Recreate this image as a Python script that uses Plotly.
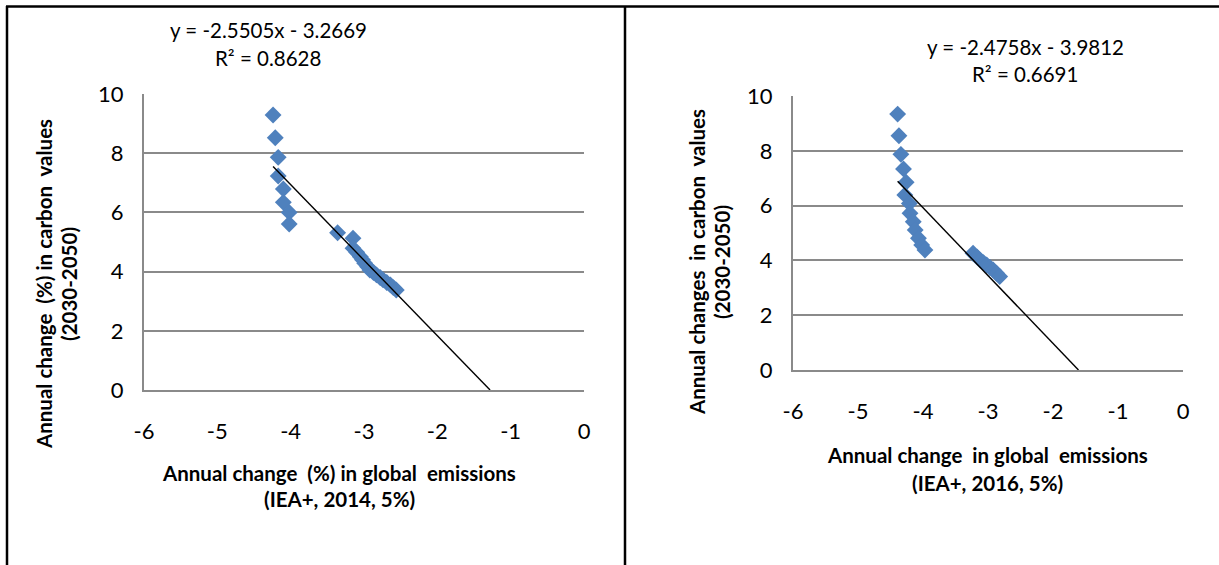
import plotly.graph_objects as go

W, H = 1219, 565

# ---------------- data ----------------
# Left chart: IEA+, 2014, 5%
x_2014 = [-4.24, -4.21, -4.17, -4.17, -4.10, -4.10, -4.02, -4.02, -3.36, -3.15,
          -3.15, -3.10, -3.05, -3.02, -2.99, -2.95, -2.92, -2.87, -2.83, -2.78,
          -2.74, -2.69, -2.64, -2.60, -2.56]
y_2014 = [9.29, 8.52, 7.86, 7.23, 6.79, 6.34, 6.00, 5.61, 5.31, 5.13,
          4.79, 4.65, 4.50, 4.40, 4.28, 4.16, 4.05, 3.97, 3.89, 3.80,
          3.72, 3.63, 3.55, 3.46, 3.38]
slope_2014, icept_2014, r2_2014 = -2.5505, -3.2669, 0.8628

# Right chart: IEA+, 2016, 5%
x_2016 = [-4.39, -4.37, -4.34, -4.30, -4.26, -4.28, -4.21, -4.20, -4.15, -4.12,
          -4.07, -4.02, -3.97, -3.23, -3.17, -3.12, -3.07, -3.02, -2.97, -2.92,
          -2.87, -2.82]
y_2016 = [9.34, 8.55, 7.87, 7.34, 6.85, 6.39, 6.08, 5.72, 5.41, 5.11,
          4.81, 4.56, 4.38, 4.26, 4.13, 4.01, 3.92, 3.83, 3.74, 3.65,
          3.53, 3.41]
slope_2016, icept_2016, r2_2016 = -2.4758, -3.9812, 0.6691

x_ticks = [-6, -5, -4, -3, -2, -1, 0]
x_tick_labels = ["-6", "-5", "-4", "-3", "-2", "-1", "0"]
y_ticks = [0, 2, 4, 6, 8, 10]
y_tick_labels = ["0", "2", "4", "6", "8", "10"]

# ---------------- styling ----------------
FONT = "Lato"
BLUE = "#4F81BD"
GRID = "#8A8A8A"


def px_x(p):
    return p / W


def px_y(p):
    return 1 - p / H


fig = go.Figure()


def add_panel(xs, ys, slope, icept, xa, ya):
    fig.add_trace(go.Scatter(
        x=xs, y=ys, mode="markers", xaxis=xa, yaxis=ya,
        marker=dict(symbol="diamond", size=13, color=BLUE, line=dict(width=0)),
        showlegend=False, hoverinfo="x+y"))
    x0 = min(xs)
    x1 = -icept / slope
    fig.add_trace(go.Scatter(
        x=[x0, x1], y=[slope * x0 + icept, slope * x1 + icept],
        mode="lines", xaxis=xa, yaxis=ya,
        line=dict(color="black", width=1.4), showlegend=False, hoverinfo="skip"))


add_panel(x_2014, y_2014, slope_2014, icept_2014, "x", "y")
add_panel(x_2016, y_2016, slope_2016, icept_2016, "x2", "y2")

xcommon = dict(range=[-6, 0], tickvals=x_ticks, ticktext=x_tick_labels,
               showgrid=False, zeroline=False, automargin=False,
               showline=True, linecolor=GRID, linewidth=2, ticks="",
               tickfont=dict(family=FONT, size=22, color="black"),
               ticklabelstandoff=21, fixedrange=True)
ycommon = dict(range=[0, 10], tickvals=y_ticks, ticktext=y_tick_labels,
               showgrid=True, gridcolor=GRID, automargin=False,
               gridwidth=2, zeroline=False, showline=True, linecolor=GRID,
               linewidth=2, ticks="",
               tickfont=dict(family=FONT, size=22, color="black"),
               ticklabelstandoff=14, fixedrange=True)

fig.update_layout(
    template="none",
    width=W, height=H,
    margin=dict(l=0, r=0, t=0, b=0, pad=0, autoexpand=False),
    paper_bgcolor="white", plot_bgcolor="white",
    font=dict(family=FONT, size=20, color="black"),
    hovermode="closest",
    xaxis=dict(domain=[px_x(144), px_x(584)], anchor="y", **xcommon),
    yaxis=dict(domain=[px_y(390), px_y(94)], anchor="x", **ycommon),
    xaxis2=dict(domain=[px_x(793), px_x(1183)], anchor="y2", **xcommon),
    yaxis2=dict(domain=[px_y(370), px_y(96)], anchor="x2", **ycommon),
)


def ann(text, x, y, bold=False, angle=0, size=20.5):
    fig.add_annotation(
        text=f"<b>{text}</b>" if bold else text,
        x=px_x(x), y=px_y(y), xref="paper", yref="paper",
        xanchor="center", yanchor="middle", showarrow=False,
        textangle=angle, font=dict(family=FONT, size=size, color="black"),
        align="center")


# equations
ann(f"y = {slope_2014}x - {abs(icept_2014)}", 268, 30)
ann(f"R² = {r2_2014}", 268, 58)
ann(f"y = {slope_2016}x - {abs(icept_2016)}", 1025, 47)
ann(f"R² = {r2_2016}", 1025, 74)

# axis titles
ann("Annual change  (%) in global  emissions", 339, 473, bold=True)
ann("(IEA+, 2014, 5%)", 339, 499, bold=True)
ann("Annual change  (%) in carbon  values", 44, 284, bold=True, angle=-90)
ann("(2030-2050)", 69, 284, bold=True, angle=-90)

ann("Annual change  in global  emissions", 987, 455, bold=True)
ann("(IEA+, 2016, 5%)", 987, 483, bold=True)
ann("Annual changes  in carbon  values", 697, 262, bold=True, angle=-90)
ann("(2030-2050)", 722, 262, bold=True, angle=-90)

# frame lines of the two panels
for (xa, ya, xb, yb) in [(6, 6.5, W, 6.5), (7, 6, 7, H), (625, 6, 625, H)]:
    fig.add_shape(type="line", xref="paper", yref="paper",
                  x0=px_x(xa), y0=px_y(ya), x1=px_x(xb), y1=px_y(yb),
                  line=dict(color="black", width=2.5))

fig.write_html(
    "out.html",
    config={"displayModeBar": False},
    post_script="document.body.style.margin='0';"
                "document.body.style.overflow='hidden';")
